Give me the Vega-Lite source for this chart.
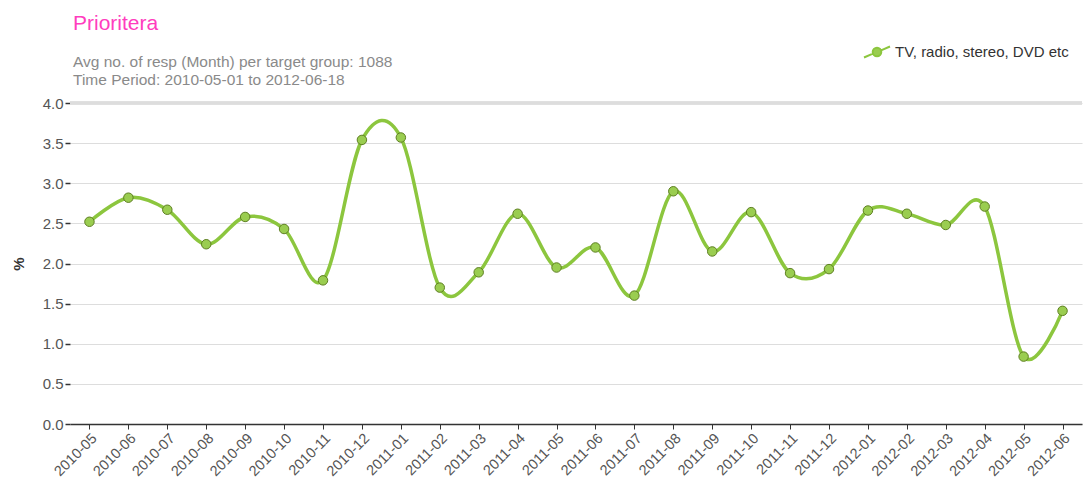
{
  "$schema": "https://vega.github.io/schema/vega-lite/v6.json",
  "width": 1084,
  "height": 483,
  "autosize": {"type": "fit", "contains": "padding"},
  "padding": {"left": 11, "top": 12, "right": 0, "bottom": 4},
  "background": "white",
  "config": {
    "font": "Liberation Sans",
    "view": {"stroke": null}
  },
  "title": {
    "text": "Prioritera",
    "subtitle": ["\u2002Avg no. of resp (Month) per target group: 1088", "\u2002Time Period: 2010-05-01 to 2012-06-18"],
    "anchor": "start",
    "frame": "group",
    "dx": 3,
    "color": "#FF3DBE",
    "fontSize": 21,
    "fontWeight": "normal",
    "subtitleColor": "#8a8a8a",
    "subtitleFontSize": 15.5,
    "subtitlePadding": 21,
    "subtitleLineHeight": 18,
    "offset": 8
  },
  "data": {
    "values": [
      {"month": "2010-05", "value": 2.52, "series": "TV, radio, stereo, DVD etc"},
      {"month": "2010-06", "value": 2.82, "series": "TV, radio, stereo, DVD etc"},
      {"month": "2010-07", "value": 2.67, "series": "TV, radio, stereo, DVD etc"},
      {"month": "2010-08", "value": 2.24, "series": "TV, radio, stereo, DVD etc"},
      {"month": "2010-09", "value": 2.58, "series": "TV, radio, stereo, DVD etc"},
      {"month": "2010-10", "value": 2.43, "series": "TV, radio, stereo, DVD etc"},
      {"month": "2010-11", "value": 1.79, "series": "TV, radio, stereo, DVD etc"},
      {"month": "2010-12", "value": 3.54, "series": "TV, radio, stereo, DVD etc"},
      {"month": "2011-01", "value": 3.57, "series": "TV, radio, stereo, DVD etc"},
      {"month": "2011-02", "value": 1.70, "series": "TV, radio, stereo, DVD etc"},
      {"month": "2011-03", "value": 1.89, "series": "TV, radio, stereo, DVD etc"},
      {"month": "2011-04", "value": 2.62, "series": "TV, radio, stereo, DVD etc"},
      {"month": "2011-05", "value": 1.95, "series": "TV, radio, stereo, DVD etc"},
      {"month": "2011-06", "value": 2.20, "series": "TV, radio, stereo, DVD etc"},
      {"month": "2011-07", "value": 1.60, "series": "TV, radio, stereo, DVD etc"},
      {"month": "2011-08", "value": 2.90, "series": "TV, radio, stereo, DVD etc"},
      {"month": "2011-09", "value": 2.15, "series": "TV, radio, stereo, DVD etc"},
      {"month": "2011-10", "value": 2.64, "series": "TV, radio, stereo, DVD etc"},
      {"month": "2011-11", "value": 1.88, "series": "TV, radio, stereo, DVD etc"},
      {"month": "2011-12", "value": 1.93, "series": "TV, radio, stereo, DVD etc"},
      {"month": "2012-01", "value": 2.66, "series": "TV, radio, stereo, DVD etc"},
      {"month": "2012-02", "value": 2.62, "series": "TV, radio, stereo, DVD etc"},
      {"month": "2012-03", "value": 2.48, "series": "TV, radio, stereo, DVD etc"},
      {"month": "2012-04", "value": 2.71, "series": "TV, radio, stereo, DVD etc"},
      {"month": "2012-05", "value": 0.84, "series": "TV, radio, stereo, DVD etc"},
      {"month": "2012-06", "value": 1.41, "series": "TV, radio, stereo, DVD etc"}
    ]
  },
  "encoding": {
    "x": {
      "field": "month",
      "type": "ordinal",
      "scale": {"type": "point", "padding": 0.5},
      "axis": {
        "title": null,
        "labelAngle": -45,
        "labelAlign": "right",
        "labelBaseline": "top",
        "labelColor": "#555555",
        "labelFontSize": 14.5,
        "domainColor": "#333333",
        "domainWidth": 1.5,
        "tickColor": "#333333",
        "tickSize": 5,
        "labelPadding": 2
      }
    },
    "y": {
      "field": "value",
      "type": "quantitative",
      "scale": {"domain": [0, 4], "nice": false},
      "axis": {
        "title": "%",
        "titleColor": "#333333",
        "titleFontSize": 15,
        "titleFontWeight": "bold",
        "titlePadding": 16,
        "values": [0, 0.5, 1, 1.5, 2, 2.5, 3, 3.5, 4],
        "format": ".1f",
        "labelColor": "#555555",
        "labelFontSize": 15,
        "domain": false,
        "tickColor": "#333333",
        "tickSize": 5,
        "tickWidth": 1.5,
        "gridColor": "#dddddd",
        "labelPadding": 2
      }
    }
  },
  "layer": [
    {
      "mark": {"type": "rule", "color": "#dddddd", "strokeWidth": 2.5},
      "encoding": {"y": {"datum": 4}, "x": null}
    },
    {
      "mark": {"type": "line", "interpolate": "cardinal", "strokeWidth": 3.5, "color": "#8CC63E"}
    },
    {
      "mark": {"type": "point", "filled": true, "size": 90, "stroke": "#5E7F22", "strokeWidth": 1, "opacity": 1, "shape": "circle"},
      "encoding": {
        "color": {
          "field": "series",
          "type": "nominal",
          "scale": {"range": ["#9ACD50"]},
          "legend": {
            "title": null,
            "orient": "none",
            "legendX": 793,
            "legendY": -65,
            "labelFontSize": 15,
            "labelLimit": 400,
            "labelColor": "#333333",
            "symbolType": "M-1,0.42L-0.31,0.13M0.31,-0.13L1,-0.42M-0.33,0A0.33,0.33 0 1,0 0.33,0A0.33,0.33 0 1,0 -0.33,0Z",
            "symbolSize": 676,
            "symbolFillColor": "#9ACD50",
            "symbolStrokeColor": "#8CC63E",
            "symbolStrokeWidth": 2,
            "labelOffset": 4
          }
        }
      }
    }
  ]
}
